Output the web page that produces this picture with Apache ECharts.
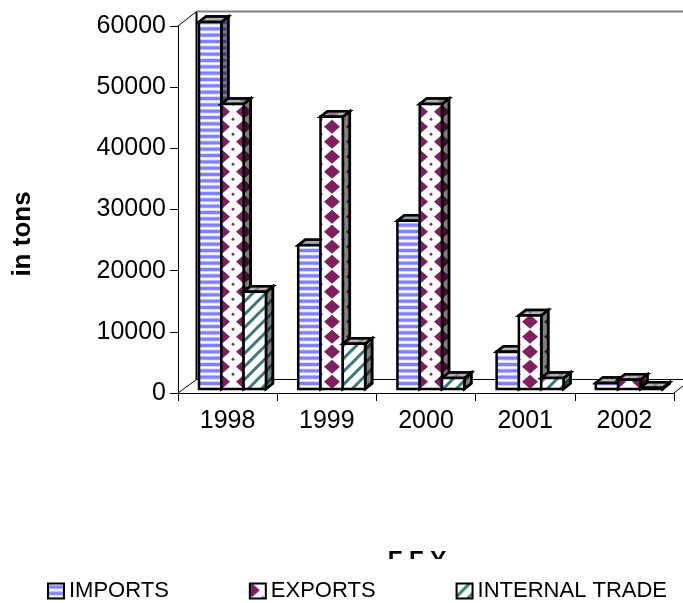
<!DOCTYPE html>
<html>
<head>
<meta charset="utf-8">
<script src="https://cdn.jsdelivr.net/npm/echarts@6/dist/echarts.min.js"></script>
<style>
  html, body { margin: 0; padding: 0; background: #fff; }
  #chart { width: 683px; height: 603px; }
</style>
</head>
<body>
<div id="chart"></div>
<script>
const years = ['1998', '1999', '2000', '2001', '2002']
const imports = [60000, 23500, 27500, 6100, 1000]
const exportsTons = [46600, 44500, 46600, 12000, 1500]
const internalTrade = [15900, 7400, 1800, 1800, 200]
const yTicks = { min: 0, max: 60000, step: 10000 }

const font = '"Liberation Sans", Arial, sans-serif'
const DEPTH_X = 7
const DEPTH_Y = 5.5
const FLOOR_X = 21
const FLOOR_Y = 4
const BAR_W = 22.3

function tile(w, h, draw) {
  const c = document.createElement('canvas')
  c.width = w
  c.height = h
  const g = c.getContext('2d')
  g.fillStyle = '#fff'
  g.fillRect(0, 0, w, h)
  draw(g)
  return { image: c, repeat: 'repeat' }
}

// three stripes in 19px, the reference period is not a whole pixel
const stripes = tile(4, 19, (g) => {
  ;[3.5, 9.83, 16.17].forEach((mid) => {
    g.fillStyle = 'rgba(128,128,255,0.35)'
    g.fillRect(0, mid - 2.4, 4, 4.8)
    g.fillStyle = '#8080ff'
    g.fillRect(0, mid - 1.5, 4, 3)
  })
})

function diamond(g, x, y, rx, ry) {
  g.beginPath()
  g.moveTo(x - rx, y)
  g.lineTo(x, y - ry)
  g.lineTo(x + rx, y)
  g.lineTo(x, y + ry)
  g.closePath()
  g.fill()
}

const diamonds = tile(22, 15, (g) => {
  g.fillStyle = '#7f1f60'
  ;[-22, 0, 22].forEach((sx) => {
    ;[-15, 0, 15].forEach((sy) => {
      diamond(g, 2 + sx, 6.7 + sy, 8, 7)
      diamond(g, 13 + sx, 14.2 + sy, 1.8, 1.8)
    })
  })
})

const hatch = tile(13, 13, (g) => {
  g.strokeStyle = '#3a7874'
  g.lineWidth = 3
  ;[-13, 0, 13].forEach((s) => {
    g.beginPath()
    g.moveTo(s - 2, 15)
    g.lineTo(s + 15, -2)
    g.stroke()
  })
})

function poly(points, fill) {
  return {
    type: 'polygon',
    shape: { points },
    style: { fill, stroke: '#000', lineWidth: 2.5, lineJoin: 'miter' },
  }
}

function shade(points, fill) {
  return {
    type: 'polygon',
    shape: { points },
    style: { fill, stroke: '#000', lineWidth: 2.5 },
  }
}

function bar3d(seriesPos, pattern) {
  return function (params, api) {
    const idx = api.value(0)
    const base = api.coord([idx, 0])
    const top = api.coord([idx, api.value(1)])
    const bandLeft = base[0] - api.size([1, 0])[0] / 2
    const x0 = bandLeft + FLOOR_X + seriesPos * BAR_W
    const x1 = x0 + BAR_W
    const y0 = base[1] - FLOOR_Y
    const y1 = top[1] - FLOOR_Y
    const dx = DEPTH_X
    const dy = DEPTH_Y
    const side = [[x1, y1], [x1 + dx, y1 - dy], [x1 + dx, y0 - dy], [x1, y0]]
    const cap = [[x0, y1], [x0 + dx, y1 - dy], [x1 + dx, y1 - dy], [x1, y1]]
    const front = [[x0, y1], [x1, y1], [x1, y0], [x0, y0]]
    return {
      type: 'group',
      children: [
        poly(side, pattern),
        shade(side, 'rgba(0,0,0,0.5)'),
        poly(cap, pattern),
        shade(cap, 'rgba(150,150,150,0.7)'),
        poly(front, pattern),
      ],
    }
  }
}

function renderWalls(params, api) {
  const { x, y, width, height } = params.coordSys
  const bx = x + 18.5
  const by = y - 14.5
  const floorY = y + height
  const right = x + width
  const line = (x1, y1, x2, y2, stroke, lineWidth) => ({
    type: 'line',
    shape: { x1, y1, x2, y2 },
    style: { stroke, lineWidth },
  })
  return {
    type: 'group',
    children: [
      line(x, y, bx, by, '#000', 1),
      line(x, floorY, bx, floorY - 13.5, '#000', 1),
      line(bx, by, bx, floorY - 13.5, '#000', 2),
      line(bx, by, 683, by, '#808080', 2),
      line(bx, floorY - 13.5, 683, floorY - 13.5, '#000', 1),
      line(right, floorY, 683, floorY - 7, '#000', 1),
    ],
  }
}

function barSeries(name, values, pos, pattern) {
  return {
    name,
    type: 'custom',
    renderItem: bar3d(pos, pattern),
    encode: { x: 0, y: 1 },
    data: values.map((v, i) => [i, v]),
    itemStyle: { color: pattern, borderColor: '#000', borderWidth: 2 },
    z: 3 + pos,
    clip: false,
  }
}

const chart = echarts.init(document.getElementById('chart'), null, { renderer: 'canvas' })
chart.setOption({
  backgroundColor: '#fff',
  animation: false,
  textStyle: { fontFamily: font },
  grid: { left: 178, top: 26, width: 496, height: 367, containLabel: false },
  xAxis: {
    type: 'category',
    data: years,
    axisLine: { lineStyle: { color: '#000', width: 1 } },
    axisTick: { show: true, length: 8, alignWithLabel: false, lineStyle: { color: '#000' } },
    axisLabel: { color: '#000', fontSize: 25, fontFamily: font, margin: 16 },
    splitLine: { show: false },
  },
  yAxis: {
    type: 'value',
    min: yTicks.min,
    max: yTicks.max,
    interval: yTicks.step,
    axisLine: { show: true, lineStyle: { color: '#000', width: 1 } },
    axisTick: { show: true, length: 8, lineStyle: { color: '#000' } },
    axisLabel: { color: '#000', fontSize: 25, fontFamily: font, margin: 12, formatter: (v) => String(v) },
    splitLine: { show: false },
  },
  title: {
    text: 'F F Y',
    left: 417,
    top: 549,
    padding: 0,
    textAlign: 'center',
    textStyle: { color: '#000', fontSize: 24, fontWeight: 'bold', fontFamily: font },
  },
  graphic: [
    {
      type: 'text',
      x: 23,
      y: 234,
      rotation: Math.PI / 2,
      style: {
        text: 'in tons',
        fill: '#000',
        font: `bold 26px ${font}`,
        align: 'center',
        verticalAlign: 'middle',
      },
    },
    // the axis title in the reference is cut off by the legend box
    {
      type: 'rect',
      shape: { x: 340, y: 559, width: 160, height: 17 },
      style: { fill: '#fff' },
      z: 100,
    },
  ],
  legend: {
    left: 47,
    top: 580,
    width: 636,
    padding: 0,
    itemWidth: 16,
    itemHeight: 15,
    itemGap: 80,
    icon: 'rect',
    data: ['IMPORTS', 'EXPORTS', 'INTERNAL TRADE'],
    textStyle: { color: '#000', fontSize: 22, fontFamily: font },
    z: 101,
  },
  series: [
    {
      name: 'walls',
      type: 'custom',
      renderItem: renderWalls,
      data: [[0, 0]],
      encode: { x: 0, y: 1 },
      z: 1,
      silent: true,
      clip: false,
    },
    barSeries('IMPORTS', imports, 0, stripes),
    barSeries('EXPORTS', exportsTons, 1, diamonds),
    barSeries('INTERNAL TRADE', internalTrade, 2, hatch),
  ],
})
</script>
</body>
</html>
